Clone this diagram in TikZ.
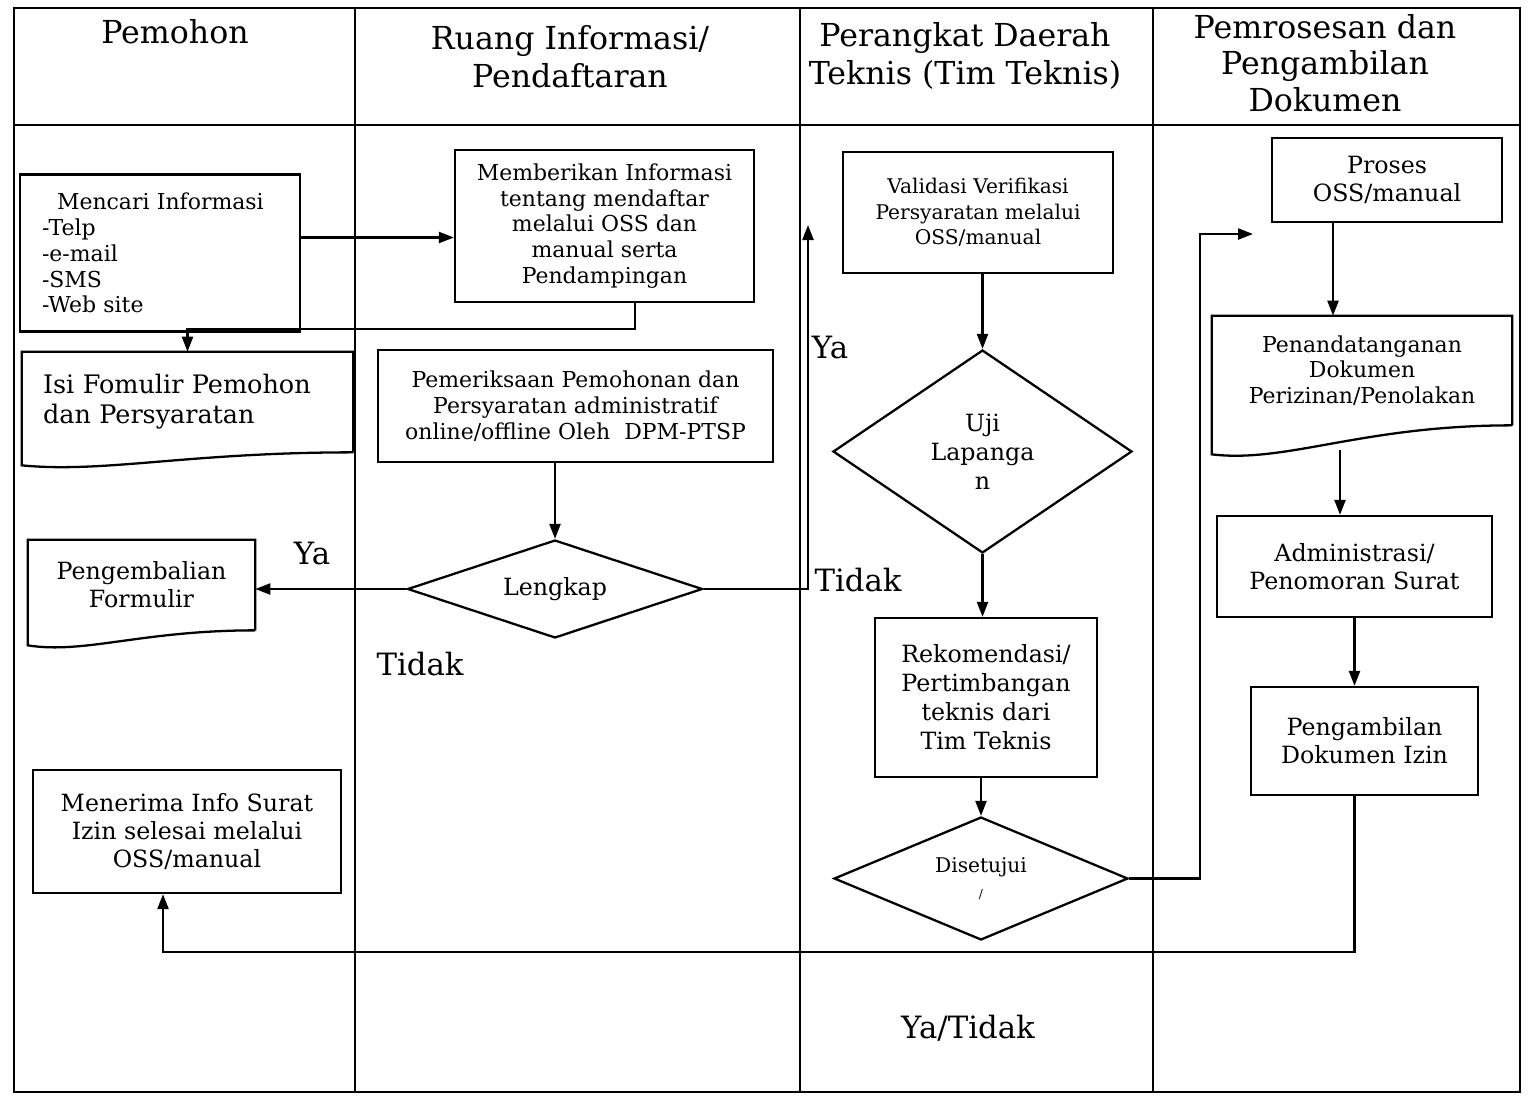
\documentclass[tikz,border=0pt]{standalone}
\usepackage{fontspec}
\setmainfont{DejaVu Serif}
\usetikzlibrary{shapes.geometric,arrows.meta,calc}

\begin{document}
\begin{tikzpicture}[x=0.02cm, y=-0.02cm,
  lane/.style={line width=1pt},
  box/.style={draw, line width=1.3pt, align=center, inner sep=2pt},
  doc/.style={inner sep=2pt},
  docline/.style={line width=1.3pt},
  dec/.style={draw, line width=1.3pt, diamond, aspect=3, inner sep=0pt, align=center},
  head/.style={font=\fontsize{18}{21.5}\selectfont, align=center},
  lbl/.style={font=\fontsize{17.5}{20}\selectfont},
  small/.style={font=\fontsize{11.5}{14.5}\selectfont},
  mid/.style={font=\fontsize{12.5}{14.7}\selectfont},
  big/.style={font=\fontsize{13.5}{16}\selectfont},
  arr/.style={line width=1.3pt, -{Triangle[length=0.3cm,width=0.22cm]}}]
\useasboundingbox (0,0) rectangle (1537,1109);

% lanes
\draw[lane] (14,8) rectangle (1520,1092);
\draw[lane] (14,125) -- (1520,125);
\foreach \x in {355,800,1153} \draw[lane] (\x,8) -- (\x,1092);

\node[head] (h1) at (175,32) {Pemohon};
\node[head] (h2) at (570,57) {Ruang Informasi/\\Pendaftaran};
\node[head] (h3) at (965,56) {Perangkat Daerah\\Teknis (Tim Teknis)};
\node[head, font=\fontsize{18}{20.7}\selectfont] (h4) at (1325,63) {Pemrosesan dan\\Pengambilan\\Dokumen};

% Pemohon
\node[box, mid, align=left, text width=4.72cm, inner xsep=0.44cm, minimum height=3.14cm] (cari) at (160,253) {\hspace*{0.3cm}Mencari Informasi\\-Telp\\-e-mail\\-SMS\\-Web site};
\node[doc, align=left, text width=5.78cm, inner xsep=0.42cm, minimum height=2cm, font=\fontsize{14.5}{17}\selectfont] (isi) at (187.5,402) {Isi Fomulir Pemohon\\dan Persyaratan};
\draw[docline] (isi.south east) -- (isi.north east) -- (isi.north west) -- ($(isi.south west)+(0,13)$) .. controls ($(isi.south west)!0.25!(isi.south east)+(0,21)$) and ($(isi.south west)!0.5!(isi.south east)$) .. (isi.south east);
\node[doc, big, align=center, minimum width=4.54cm, minimum height=1.8cm] (kembali) at (141.5,585) {Pengembalian\\Formulir};
\draw[docline] (kembali.south east) -- (kembali.north east) -- (kembali.north west) -- ($(kembali.south west)+(0,15)$) .. controls ($(kembali.south west)!0.25!(kembali.south east)+(0,24)$) and ($(kembali.south west)!0.5!(kembali.south east)$) .. (kembali.south east);
\node[box, big, minimum width=6.16cm, minimum height=2.46cm] (terima) at (187,831.5) {Menerima Info Surat\\Izin selesai melalui\\OSS/manual};

% Ruang Informasi
\node[box, mid, minimum width=5.98cm, minimum height=3.04cm] (beri) at (604.5,226) {Memberikan Informasi\\tentang mendaftar\\melalui OSS dan\\manual serta\\Pendampingan};
\node[box, mid, minimum width=7.9cm, minimum height=2.24cm] (periksa) at (575.5,406) {Pemeriksaan Pemohonan dan\\Persyaratan administratif\\online/offline Oleh \ DPM-PTSP};
\node[dec, big, minimum width=5.9cm, minimum height=1.96cm] (lengkap) at (555,589) {Lengkap};
\node[lbl] (ya1) at (312,553) {Ya};
\node[lbl] (tdk1) at (420,664) {Tidak};

% Tim Teknis
\node[box, small, minimum width=5.4cm, minimum height=2.42cm] (valid) at (978,212.5) {Validasi Verifikasi\\Persyaratan melalui\\OSS/manual};
\node[dec, big, aspect=1.5, minimum width=5.98cm, minimum height=4.06cm, font=\fontsize{13.5}{16.5}\selectfont] (uji) at (982.5,451.5) {Uji\\Lapanga\\n};
\node[box, big, minimum width=4.44cm, minimum height=3.18cm, font=\fontsize{13.5}{16.5}\selectfont] (rekom) at (986,697.5) {Rekomendasi/\\Pertimbangan\\teknis dari\\Tim Teknis};
\node[dec, small, minimum width=5.88cm, minimum height=2.46cm] (setuju) at (981,878.5) {Disetujui\\{\scriptsize /}};
\node[lbl] (ya2) at (830,348) {Ya};
\node[lbl] (tdk2) at (858,580) {Tidak};
\node[lbl] (yt) at (968,1028) {Ya/Tidak};

% Pemrosesan
\node[box, big, minimum width=4.6cm, minimum height=1.68cm] (proses) at (1387,180) {Proses\\OSS/manual};
\node[doc, mid, align=center, minimum width=6cm, minimum height=2.18cm] (tanda) at (1362,370.5) {Penandatanganan\\Dokumen\\Perizinan/Penolakan};
\draw[docline] (tanda.south east) -- (tanda.north east) -- (tanda.north west) -- ($(tanda.south west)+(0,29)$) .. controls ($(tanda.south west)!0.25!(tanda.south east)+(0,38)$) and ($(tanda.south west)!0.5!(tanda.south east)$) .. (tanda.south east);
\node[box, big, minimum width=5.5cm, minimum height=2.02cm] (admin) at (1354.5,566.5) {Administrasi/\\Penomoran Surat};
\node[box, big, minimum width=4.54cm, minimum height=2.16cm] (ambil) at (1364.5,741) {Pengambilan\\Dokumen Izin};

% connectors
\coordinate (p1) at ([yshift=0.31cm]cari.east);
\coordinate (upend) at (808,225);
\coordinate (toproses) at (1253,234);
\coordinate (turn) at (1200,0);
\coordinate (back) at (0,952);
\draw[arr] (p1) -- (p1 -| beri.west);
\draw[arr] ([xshift=0.61cm]beri.south) |- ([yshift=0.46cm]isi.north) -- (isi.north);
\draw[arr] (lengkap.north |- periksa.south) -- (lengkap.north);
\draw[arr] (lengkap.west) -- (kembali.east |- lengkap.west);
\draw[arr] (lengkap.east) -| (upend);
\draw[arr] (uji.north |- valid.south) -- (uji.north);
\draw[arr] (uji.south) -- (uji.south |- rekom.north);
\draw[arr] (setuju.north |- rekom.south) -- (setuju.north);
\draw[arr] (setuju.east) -| (turn |- toproses) -- (toproses);
\draw[arr] ([xshift=-1.08cm]proses.south) -- ([xshift=-1.08cm]proses.south |- tanda.north);
\draw[arr] ([xshift=-0.44cm,yshift=-0.5cm]tanda.south) -- ([xshift=-0.44cm]tanda.south |- admin.north);
\draw[arr] (admin.south) -- (admin.south |- ambil.north);
\draw[arr] ([xshift=-0.2cm]ambil.south) -- ([xshift=-0.2cm]ambil.south |- back) -| ([xshift=-0.48cm]terima.south);
\end{tikzpicture}
\end{document}
